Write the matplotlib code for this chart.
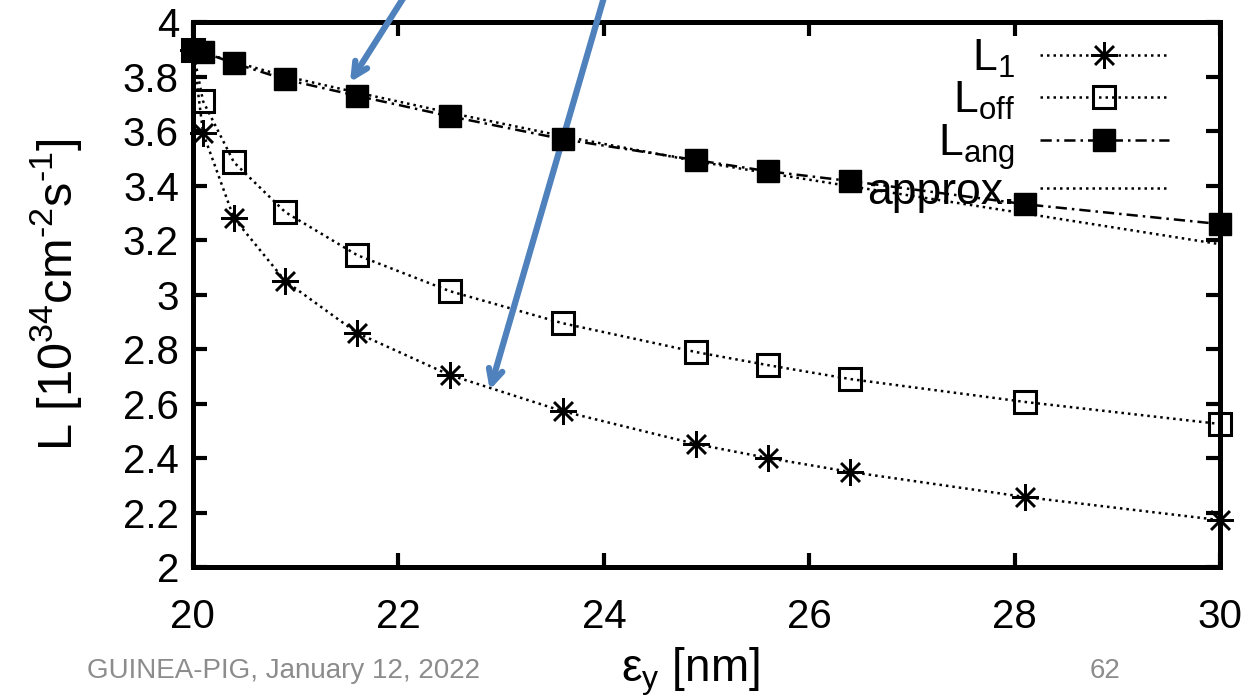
import matplotlib
matplotlib.use("Agg")
import matplotlib.pyplot as plt

plt.rcParams['font.family'] = ['Liberation Sans', 'DejaVu Sans']
plt.rcParams['mathtext.fontset'] = 'custom'
plt.rcParams['mathtext.rm'] = 'Liberation Sans'
plt.rcParams['mathtext.it'] = 'Liberation Sans'
plt.rcParams['mathtext.bf'] = 'Liberation Sans:bold'

# vertical emittance [nm]
eps_y = [20.0, 20.1, 20.4, 20.9, 21.6, 22.5, 23.6, 24.9, 25.6, 26.4, 28.1, 30.0]

# luminosities [10^34 cm^-2 s^-1]
L_1 = [3.90, 3.593, 3.281, 3.050, 2.859, 2.705, 2.572, 2.451, 2.400, 2.349, 2.257, 2.172]
L_off = [3.90, 3.710, 3.486, 3.303, 3.145, 3.013, 2.895, 2.789, 2.741, 2.690, 2.606, 2.525]
L_ang = [3.90, 3.890, 3.850, 3.790, 3.730, 3.655, 3.571, 3.494, 3.453, 3.417, 3.332, 3.259]
approx = [3.90, 3.888, 3.855, 3.802, 3.742, 3.668, 3.582, 3.490, 3.446, 3.398, 3.298, 3.185]

xticks = [20, 22, 24, 26, 28, 30]
yticks = [2, 2.2, 2.4, 2.6, 2.8, 3, 3.2, 3.4, 3.6, 3.8, 4]
ytick_labels = ['2', '2.2', '2.4', '2.6', '2.8', '3', '3.2', '3.4', '3.6', '3.8', '4']

fig = plt.figure(figsize=(12.44, 6.97), dpi=100)
ax = fig.add_axes([0.155, 0.1865, 0.826, 0.7815])

dotted = (0, (1.0, 1.6))
lw = 1.8
star = (8, 2, 0)

ax.plot(eps_y, L_1, linestyle=dotted, lw=lw, color='black', marker=star,
        markersize=19, markeredgewidth=1.8, label=r'L$_{1}$', clip_on=False, zorder=3)
ax.plot(eps_y, L_off, linestyle=dotted, lw=lw, color='black', marker='s',
        markersize=16.5, markerfacecolor='none', markeredgewidth=2.2,
        label=r'L$_{\mathrm{off}}$', clip_on=False, zorder=3)
ax.plot(eps_y, L_ang, linestyle=(0, (4.5, 2.0, 1.0, 2.0)), lw=lw, color='black',
        marker='s', markersize=16.5, markerfacecolor='black',
        label=r'L$_{\mathrm{ang}}$', clip_on=False, zorder=4)
ax.plot(eps_y, approx, linestyle=dotted, lw=lw, color='black',
        label='approx.', clip_on=False, zorder=3)

ax.set_xlim(20, 30)
ax.set_ylim(2, 4)
ax.set_xticks(xticks)
ax.set_xticklabels([str(t) for t in xticks])
ax.set_yticks(yticks)
ax.set_yticklabels(ytick_labels)

for s in ax.spines.values():
    s.set_linewidth(3.6)
ax.tick_params(direction='in', length=10, width=3, labelsize=29, pad=10,
               top=True, right=True)
ax.tick_params(axis='x', pad=22)

ax.set_ylabel('L [10$^{34}$cm$^{\u2010 2}$s$^{\u2010 1}$]', fontsize=35, labelpad=28)
fig.text(0.555, 0.036, '\u03b5$_{\\mathrm{y}}$ [nm]', fontsize=33,
         ha='center', va='center')

leg = ax.legend(loc='upper right', frameon=False, markerfirst=False,
                fontsize=32, handlelength=2.9, handletextpad=0.55,
                labelspacing=0.0, borderaxespad=0.0,
                bbox_to_anchor=(0.967, 1.005))
for t in leg.get_texts():
    t.set_ha('right')
leg.set_zorder(2)

# pointer arrows
arrow_style = dict(arrowstyle='->,head_length=1.0,head_width=0.5',
                   color='#4F81BD', lw=4.5, shrinkA=0, shrinkB=0)
ax.annotate('', xy=(21.53, 3.78), xytext=(22.05, 4.09),
            xycoords='data', textcoords='data',
            arrowprops=arrow_style, annotation_clip=False)
ax.annotate('', xy=(22.89, 2.65), xytext=(24.0, 4.09),
            xycoords='data', textcoords='data',
            arrowprops=arrow_style, annotation_clip=False)

# slide footer
foot = dict(fontsize=20, color='#8c8c8c', va='center',
            family=['Liberation Sans Narrow', 'Liberation Sans', 'DejaVu Sans'])
fig.text(0.07, 0.038, 'GUINEA-PIG, January 12, 2022', **foot)
fig.text(0.876, 0.038, '62', **foot)

fig.savefig('out.png', dpi=100)
